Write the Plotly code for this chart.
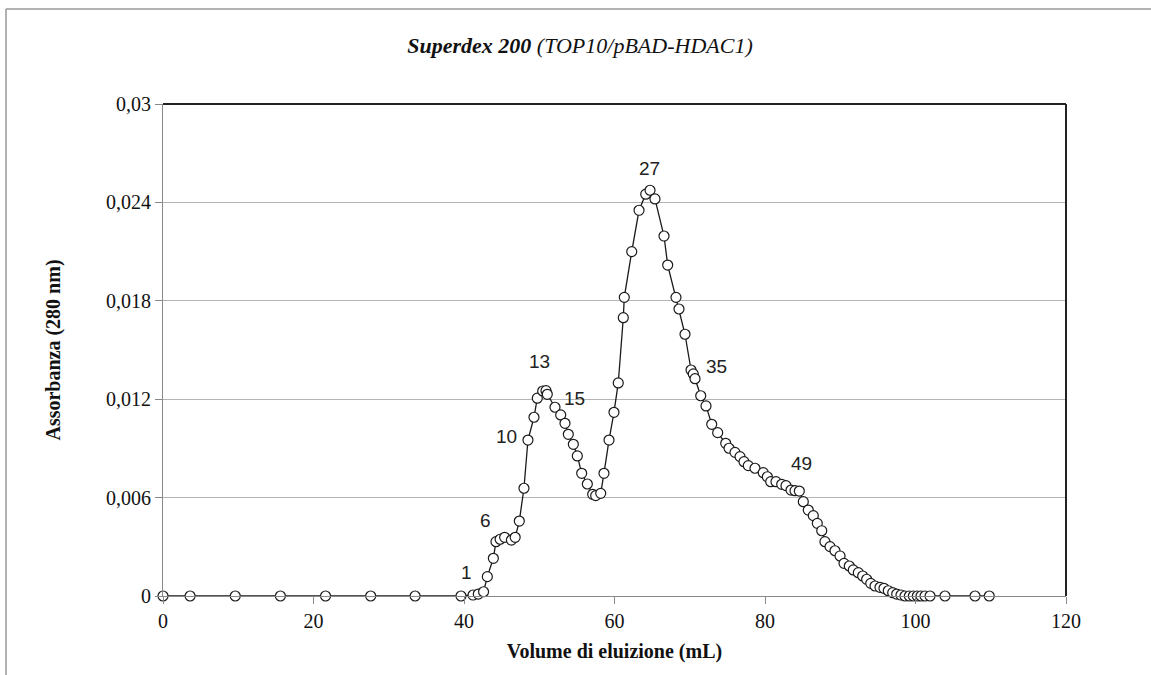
import plotly.graph_objects as go

# Elution volume (mL) and absorbance at 280 nm
volume = [0, 3.6, 9.6, 15.6, 21.6, 27.6, 33.5, 39.6,
          41.2, 41.9, 42.6, 43.1, 43.9, 44.25, 44.8, 45.4, 46.3, 46.8,
          47.35, 47.97, 48.5, 49.3, 49.74, 50.46, 50.9, 51.07, 52.09, 52.85,
          53.42, 53.86, 54.53, 55.06, 55.64, 56.39, 57.10, 57.50, 58.17, 58.60,
          59.27, 59.93, 60.5,
          61.17, 61.30, 62.29, 63.26, 64.15, 64.72, 65.38, 66.58, 67.07, 68.17,
          68.57, 69.37, 70.17, 70.47, 70.70, 71.46, 72.16, 72.92, 73.71, 74.78,
          75.22, 76.01, 76.68, 77.21, 77.78, 78.67, 79.77, 80.31, 80.76, 81.46,
          82.22, 82.79, 83.46, 83.99, 84.56, 85.09, 85.75, 86.42, 86.95, 87.54,
          87.97, 88.64, 89.30, 89.97, 90.50, 91.20, 91.73, 92.40, 92.98, 93.51,
          94.05, 94.62, 95.28, 95.81, 96.38, 96.97, 97.50, 98.07, 98.60, 99.18,
          99.71, 100.24, 100.73, 101.26, 101.93, 103.92, 107.91, 109.8]

absorbance = [0, 0, 0, 0, 0, 0, 0, 0,
              0.00006, 0.00012, 0.00026, 0.00118, 0.00230, 0.00331, 0.00346, 0.00358, 0.00341, 0.00358,
              0.00457, 0.00657, 0.00951, 0.01090, 0.01206, 0.01250, 0.01252, 0.01230, 0.01151, 0.01104,
              0.01053, 0.00986, 0.00925, 0.00854, 0.00748, 0.00683, 0.00620, 0.00612, 0.00626, 0.00748,
              0.00951, 0.01120, 0.01299,
              0.01697, 0.01821, 0.02100, 0.02352, 0.02450, 0.02474, 0.02421, 0.02195, 0.02018, 0.01821,
              0.01750, 0.01596, 0.01378, 0.01354, 0.01325, 0.01221, 0.01159, 0.01047, 0.00996, 0.00931,
              0.00901, 0.00876, 0.00850, 0.00819, 0.00795, 0.00779, 0.00752, 0.00727, 0.00697, 0.00697,
              0.00681, 0.00673, 0.00646, 0.00642, 0.00640, 0.00575, 0.00524, 0.00490, 0.00443, 0.00398,
              0.00331, 0.00301, 0.00276, 0.00244, 0.00199, 0.00183, 0.00159, 0.00142, 0.00122, 0.00102,
              0.00077, 0.00061, 0.00053, 0.00047, 0.00032, 0.00020, 0.00012, 0.00006, 0, 0,
              0, 0, 0, 0, 0, 0, 0, 0]

# Fraction labels and where they sit (data coordinates)
fraction_labels = ["1", "6", "10", "13", "15", "27", "35", "49"]
label_x = [40.3, 42.9, 45.6, 50.0, 54.7, 64.6, 73.5, 84.9]
label_y = [0.00145, 0.00463, 0.00971, 0.01429, 0.01205, 0.02608, 0.01398, 0.00809]

y_tickvals = [0, 0.006, 0.012, 0.018, 0.024, 0.03]
y_ticktext = ["0", "0,006", "0,012", "0,018", "0,024", "0,03"]
x_tickvals = [0, 20, 40, 60, 80, 100, 120]

SERIF = "Liberation Serif, Times New Roman, serif"
SANS = "Liberation Sans, Arial, sans-serif"

fig = go.Figure()
fig.add_trace(go.Scatter(
    x=volume, y=absorbance, mode="lines+markers",
    line=dict(color="#1a1a1a", width=1.3),
    marker=dict(symbol="circle", size=10, color="white",
                line=dict(color="#1a1a1a", width=1.2)),
    cliponaxis=False, showlegend=False,
))

for t, lx, ly in zip(fraction_labels, label_x, label_y):
    fig.add_annotation(x=lx, y=ly, text=t, showarrow=False,
                       font=dict(family=SANS, size=19, color="#222"),
                       xanchor="center", yanchor="middle")

# chart frame: dark top and right edges of the plot area
fig.add_shape(type="line", xref="x domain", yref="y domain", x0=0, x1=1, y0=1, y1=1,
              line=dict(color="#222", width=2))
fig.add_shape(type="line", xref="x domain", yref="y domain", x0=1, x1=1, y0=0, y1=1,
              line=dict(color="#222", width=2))
# outer chart-area border (top and left)
fig.add_shape(type="line", xref="paper", yref="paper",
              x0=(6 - 163) / 903, x1=(1151 - 163) / 903,
              y0=(596 - 9) / 492, y1=(596 - 9) / 492,
              line=dict(color="#999", width=1.5))
fig.add_shape(type="line", xref="paper", yref="paper",
              x0=(6 - 163) / 903, x1=(6 - 163) / 903,
              y0=(596 - 9) / 492, y1=(596 - 680) / 492,
              line=dict(color="#999", width=1.5))

fig.update_layout(
    width=1151, height=675,
    margin=dict(l=163, r=85, t=104, b=79),
    paper_bgcolor="white", plot_bgcolor="white",
    title=dict(text="<b><i>Superdex 200</i></b> <i>(TOP10/pBAD-HDAC1)</i>",
               x=580 / 1151, xref="container", xanchor="center",
               y=1 - 45 / 675, yref="container", yanchor="middle",
               font=dict(family=SERIF, size=22, color="#111")),
    xaxis=dict(range=[0, 120], tickvals=x_tickvals,
               showgrid=False, zeroline=False,
               showline=True, linecolor="#888", linewidth=1,
               ticks="outside", ticklen=7, tickcolor="#888",
               tickfont=dict(family=SERIF, size=20, color="#111"),
               title=dict(text="<b>Volume di eluizione (mL)</b>", standoff=12,
                          font=dict(family=SERIF, size=20, color="#111"))),
    yaxis=dict(range=[0, 0.03], tickvals=y_tickvals, ticktext=y_ticktext,
               showgrid=True, gridcolor="#b4b4b4", gridwidth=1, zeroline=False,
               showline=True, linecolor="#888", linewidth=1,
               ticks="outside", ticklen=7, tickcolor="#888",
               tickfont=dict(family=SERIF, size=20, color="#111"),
               title=dict(text="<b>Assorbanza (280 nm)</b>", standoff=40,
                          font=dict(family=SERIF, size=20, color="#111"))),
)

fig.write_html("out.html")
